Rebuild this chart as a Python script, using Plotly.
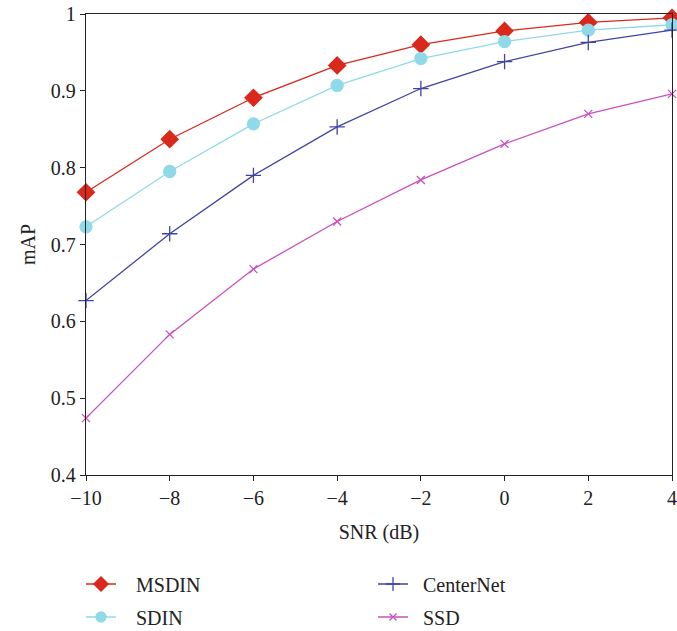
import plotly.graph_objects as go

snr = [-10, -8, -6, -4, -2, 0, 2, 4]
msdin = [0.768, 0.837, 0.891, 0.933, 0.960, 0.978, 0.989, 0.995]
sdin = [0.723, 0.795, 0.857, 0.907, 0.942, 0.964, 0.979, 0.986]
centernet = [0.627, 0.714, 0.790, 0.853, 0.903, 0.938, 0.963, 0.979]
ssd = [0.474, 0.583, 0.668, 0.730, 0.784, 0.831, 0.870, 0.896]

names = ["MSDIN", "SDIN", "CenterNet", "SSD"]
series = [msdin, sdin, centernet, ssd]
colors = ["#d9291c", "#8fd9e8", "#3f45a3", "#c94fbd"]
symbols = ["diamond", "circle", "cross-thin", "x-thin"]
sizes = [13, 12, 11, 8]
leg_sizes = [11, 10, 10, 7]
legends = ["legend", "legend2", "legend3", "legend4"]
pads = ["\u00a0\u00a0\u00a0", "\u00a0\u00a0\u00a0", "\u00a0\u00a0", "\u00a0\u00a0"]

FONT = "Liberation Serif"
fig = go.Figure()
for n, s, c, sym, sz, lsz, lg, pd in zip(names, series, colors, symbols, sizes, leg_sizes, legends, pads):
    fig.add_trace(go.Scatter(
        x=snr, y=s, name=n, mode="lines+markers",
        line=dict(color=c, width=1.3),
        marker=dict(symbol=sym, size=sz, color=c, line=dict(color=c, width=1.3)),
        showlegend=False, cliponaxis=False,
    ))
    fig.add_trace(go.Scatter(
        x=[None], y=[None], name=pd + n, mode="lines+markers",
        line=dict(color=c, width=1.3),
        marker=dict(symbol=sym, size=lsz, color=c, line=dict(color=c, width=1.3)),
        legend=lg, showlegend=True,
    ))

# plot area: x 86..672, y 14..475
ph = 461.0
pw = 586.0
def ly(ypix):
    return (475 - ypix) / ph
def lx(xpix):
    return (xpix - 86) / pw

legfont = dict(family=FONT, size=20, color="#222")
leg_common = dict(bgcolor="rgba(0,0,0,0)", font=legfont, xanchor="left", yanchor="middle",
                  itemwidth=30)
fig.update_layout(
    legend=dict(x=lx(81), y=ly(584), **leg_common),
    legend2=dict(x=lx(81), y=ly(617), **leg_common),
    legend3=dict(x=lx(373), y=ly(584), **leg_common),
    legend4=dict(x=lx(373), y=ly(617), **leg_common),
)

fig.update_layout(
    width=677, height=631,
    margin=dict(l=86, r=5, t=14, b=156, autoexpand=False),
    plot_bgcolor="white", paper_bgcolor="white",
    font=dict(family=FONT, size=16, color="#222"),
    showlegend=True,
)
fig.update_xaxes(
    range=[-10, 4], tickvals=snr, ticktext=["\u221210", "\u22128", "\u22126", "\u22124", "\u22122", "0", "2", "4"],
    showgrid=False, zeroline=False, showline=True, linecolor="#222", linewidth=1.3, mirror=True,
    ticks="outside", ticklen=5, tickcolor="#222", tickwidth=1.3,
    tickfont=dict(family=FONT, size=20, color="#222"),
    title=dict(text="SNR (dB)", font=dict(family=FONT, size=20, color="#222"), standoff=16),
)
fig.update_yaxes(
    range=[0.4, 1.0], tickvals=[0.4, 0.5, 0.6, 0.7, 0.8, 0.9, 1.0],
    ticktext=["0.4", "0.5", "0.6", "0.7", "0.8", "0.9", "1"],
    showgrid=False, zeroline=False, showline=True, linecolor="#222", linewidth=1.3, mirror=True,
    ticks="outside", ticklen=5, tickcolor="#222", tickwidth=1.3,
    tickfont=dict(family=FONT, size=20, color="#222"),
    title=dict(text="mAP", font=dict(family=FONT, size=20, color="#222"), standoff=9),
)
fig.write_html("out.html")
